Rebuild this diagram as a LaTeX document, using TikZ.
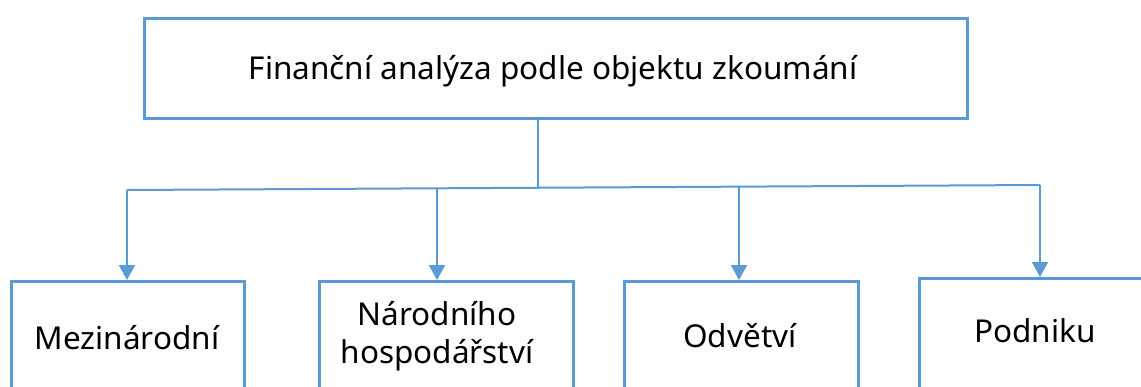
\documentclass[tikz,border=0pt]{standalone}
\usepackage{fontspec}
\setmainfont{Noto Sans}
\usetikzlibrary{arrows.meta}
\definecolor{lineblue}{HTML}{5B9BD5}
\begin{document}
\begin{tikzpicture}[x=1pt,y=-1pt,
  box/.style={draw=lineblue,line width=2.5pt,inner sep=0pt,anchor=north west},
  lbl/.style={font=\fontsize{31.5}{38}\selectfont,align=center,inner sep=0pt},
  link/.style={draw=lineblue,line width=2pt},
  arr/.style={link,-{Triangle[width=16pt,length=15pt]}}]
\useasboundingbox (0,0) rectangle (1141,386);
\clip (0,0) rectangle (1141,386);
% top box
\node[box,minimum width=823pt,minimum height=100pt] (top) at (143,17) {};
\node[lbl] (toptext) at (553,71) {Finanční analýza podle objektu zkoumání};
% bottom boxes
\node[box,minimum width=233pt,minimum height=140pt] (b1) at (10,280) {};
\node[box,minimum width=254pt,minimum height=140pt] (b2) at (318,280) {};
\node[box,minimum width=234pt,minimum height=140pt] (b3) at (623,280) {};
\node[box,minimum width=240pt,minimum height=140pt] (b4) at (918,277) {};
\node[lbl] (t1) at (127,338) {Mezinárodní};
\node[lbl] (t2) at (437,336) {Národního\\hospodářství};
\node[lbl] (t3) at (740,336) {Odvětví};
\node[lbl] (t4) at (1035,331) {Podniku};
% connectors
\coordinate (j) at (538,187.5);
\coordinate (h1) at (127,190);
\coordinate (h2) at (437,188.3);
\coordinate (h3) at (739,186.6);
\coordinate (h4) at (1040,185);
\draw[link] (top.south -| j) -- (j);
\draw[link] (h1) -- (h4);
\draw[arr] (h1) -- (h1 |- b1.north);
\draw[arr] (h2) -- (h2 |- b2.north);
\draw[arr] (h3) -- (h3 |- b3.north);
\draw[arr] (h4) -- (h4 |- b4.north);
\end{tikzpicture}
\end{document}
